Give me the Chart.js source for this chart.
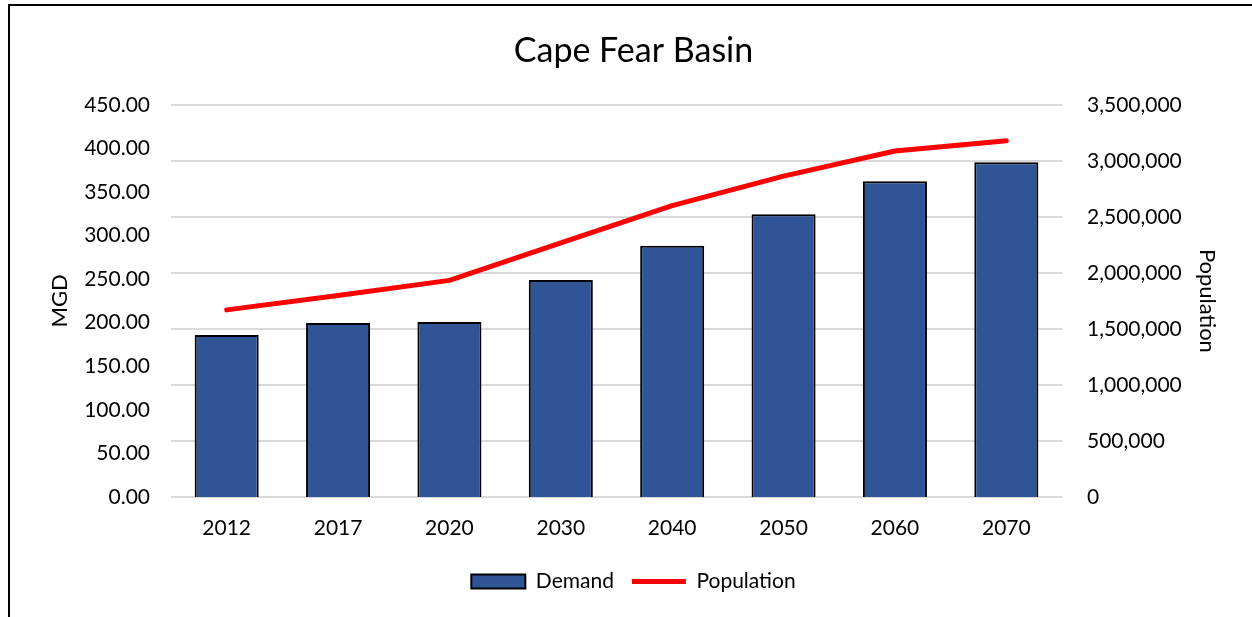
<!DOCTYPE html>
<html>

<head>
    <title>Cape Fear Basin</title>
    <script src="https://cdn.jsdelivr.net/npm/chart.js"></script>
    <style>
        html, body { margin: 0; padding: 0; background: white; overflow: hidden; }
        #wrap { position: relative; width: 1252px; height: 617px; }
        #frame {
            position: absolute; left: 8px; top: 4px; width: 2000px; height: 2000px;
            border-left: 2.5px solid black; border-top: 2.5px solid black; pointer-events: none;
        }
    </style>
</head>

<body>
    <div id="wrap">
        <canvas id="basinChart" width="1252" height="617"></canvas>
        <div id="frame"></div>
    </div>
</body>

</html>

<script>
    // values
    const years = ['2012', '2017', '2020', '2030', '2040', '2050', '2060', '2070'];
    const demand = [186.0, 199.7, 200.9, 249.1, 288.2, 324.5, 362.2, 384.0];
    const population = [1670000, 1799000, 1933000, 2268000, 2600000, 2864000, 3088000, 3180000];

    const font = 'Lato';
    Chart.defaults.font.family = font;
    Chart.defaults.color = '#000';

    const ctx = document.getElementById('basinChart').getContext('2d');
    const chart = new Chart(ctx, {
        type: 'bar',
        data: {
            labels: years,
            datasets: [{
                label: 'Demand',
                data: demand,
                yAxisID: 'y',
                backgroundColor: '#2F5597',
                borderColor: '#000',
                borderWidth: 2,
                barPercentage: 1,
                categoryPercentage: 0.575,
                pointStyle: 'rect',
                order: 2
            }, {
                type: 'line',
                label: 'Population',
                data: population,
                yAxisID: 'y1',
                borderColor: '#FF0000',
                backgroundColor: '#FF0000',
                borderWidth: 5,
                borderCapStyle: 'round',
                borderJoinStyle: 'round',
                pointRadius: 0,
                pointStyle: 'line',
                tension: 0,
                fill: false,
                order: 1
            }]
        },
        options: {
            responsive: false,
            animation: false,
            layout: { padding: { left: 47, right: 32, top: 0, bottom: 15 } },
            plugins: {
                title: {
                    display: true,
                    text: 'Cape Fear Basin',
                    font: { size: 34, weight: 'normal' },
                    color: '#000',
                    padding: { top: 31, bottom: 33 }
                },
                legend: {
                    position: 'bottom',
                    labels: {
                        usePointStyle: true,
                        pointStyleWidth: 54,
                        boxHeight: 14,
                        font: { size: 21 },
                        padding: 18,
                        sort: (a, b) => a.datasetIndex - b.datasetIndex
                    }
                },
                tooltip: { enabled: false }
            },
            scales: {
                x: {
                    grid: { display: false },
                    border: { display: false },
                    ticks: { font: { size: 21 }, padding: 11 },
                    afterFit: s => { s.height = 56; }
                },
                y: {
                    position: 'left',
                    min: 0,
                    max: 450,
                    ticks: {
                        stepSize: 50,
                        font: { size: 21 },
                        padding: 13,
                        callback: v => v.toFixed(2)
                    },
                    grid: { display: false },
                    border: { display: false },
                    title: { display: true, text: 'MGD', font: { size: 22 }, padding: 0 },
                    afterFit: s => { s.width = 124; }
                },
                y1: {
                    position: 'right',
                    min: 0,
                    max: 3500000,
                    ticks: {
                        stepSize: 500000,
                        font: { size: 21 },
                        padding: 25,
                        callback: v => v.toLocaleString('en-US')
                    },
                    grid: { color: '#D9D9D9', lineWidth: 2, drawTicks: false },
                    border: { display: false },
                    title: { display: true, text: 'Population', font: { size: 22 }, padding: 0 },
                    afterFit: s => { s.width = 158; }
                }
            }
        }
    });
</script>
